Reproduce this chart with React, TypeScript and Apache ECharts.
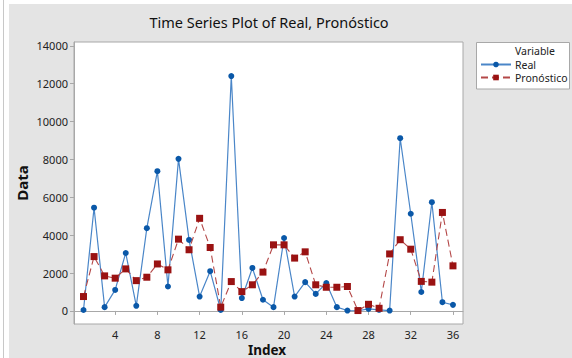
import React, { useEffect, useRef } from "react";
import * as echarts from "echarts";

const indexValues = Array.from({ length: 36 }, (_, i) => i + 1);
const realValues = [
  50, 5450, 200, 1110, 3060, 270, 4370, 7380, 1290, 8030, 3750, 760,
  2100, 50, 12400, 680, 2270, 590, 200, 3850, 760, 1520, 900, 1470,
  200, 20, 10, 110, 60, 20, 9120, 5130, 1000, 5740, 460, 320,
];
const forecastValues = [
  760, 2870, 1850, 1730, 2220, 1600, 1780, 2480, 2170, 3790, 3230, 4890,
  3350, 200, 1550, 1020, 1380, 2050, 3490, 3490, 2790, 3120, 1380, 1250,
  1250, 1290, 20, 350, 140, 3010, 3760, 3260, 1560, 1520, 5200, 2380,
];
const xTicks = [4, 8, 12, 16, 20, 24, 28, 32, 36];
const yTicks = [0, 2000, 4000, 6000, 8000, 10000, 12000, 14000];
const seriesNames = ["Real", "Pronóstico"];

const FONT = "'Noto Sans', 'Open Sans', sans-serif";

export default function App() {
  const ref = useRef<HTMLDivElement>(null);
  useEffect(() => {
    if (!ref.current) return;
    const chart = echarts.init(ref.current, undefined, { renderer: "svg" });
    const real = indexValues.map((x, i) => [x, realValues[i]]);
    const fc = indexValues.map((x, i) => [x, forecastValues[i]]);
    chart.setOption({
      animation: false,
      backgroundColor: "#ffffff",
      textStyle: { fontFamily: FONT },
      graphic: [
        { type: "rect", z: -10, shape: { x: 9, y: 4, width: 563, height: 354 }, style: { fill: "#e4e4e4" } },
        { type: "line", shape: { x1: 3.5, y1: 0, x2: 3.5, y2: 358 }, style: { stroke: "#c8c8c8", lineWidth: 1 } },
        {
          type: "text", x: 269, y: 21.5,
          style: { text: "Time Series Plot of Real, Pronóstico", fontSize: 14.5, fontFamily: FONT, fill: "#111", align: "center", verticalAlign: "middle" },
        },
        {
          type: "text", x: 22, y: 183, rotation: Math.PI / 2,
          style: { text: "Data", fontSize: 15, fontWeight: "bold", fontFamily: FONT, fill: "#111", align: "center", verticalAlign: "middle" },
        },
        {
          type: "text", x: 267, y: 349.5,
          style: { text: "Index", fontSize: 13.5, lineHeight: 13, fontWeight: "bold", fontFamily: FONT, fill: "#111", align: "center", verticalAlign: "middle" },
        },
        { type: "rect", shape: { x: 476.5, y: 42.5, width: 93, height: 46.5 }, style: { fill: "#ffffff", stroke: "#a8a8a8", lineWidth: 1 } },
        {
          type: "text", x: 515, y: 50.5,
          style: { text: "Variable", fontSize: 10.5, fontFamily: FONT, fill: "#222", align: "left", verticalAlign: "middle" },
        },
      ],
      legend: {
        left: 480, top: 58.5, orient: "vertical", itemGap: 1, itemWidth: 30, itemHeight: 7,
        data: seriesNames,
        textStyle: { fontSize: 10.5, lineHeight: 12, fontFamily: FONT, color: "#222", padding: [0, 0, 0, -1] },
        padding: 0,
      },
      grid: { left: 74, top: 42, right: 109, bottom: 34, show: true, borderColor: "#a8a8a8", borderWidth: 1, backgroundColor: "#ffffff" },
      xAxis: {
        type: "value", min: 0.1, max: 36.95,
        splitLine: { show: false },
        axisLine: { show: true, lineStyle: { color: "#a8a8a8" } },
        axisTick: { show: true, length: 4, customValues: xTicks, lineStyle: { color: "#a8a8a8" } },
        axisLabel: { customValues: xTicks, fontSize: 11, lineHeight: 12, color: "#222", fontFamily: FONT, margin: 4 },
      },
      yAxis: {
        type: "value", min: -690, max: 14200,
        splitLine: { show: false },
        axisLine: { show: true, lineStyle: { color: "#a8a8a8" } },
        axisTick: { show: true, length: 4, customValues: yTicks, lineStyle: { color: "#a8a8a8" } },
        axisLabel: { customValues: yTicks, formatter: (v: number) => String(v), fontSize: 11, color: "#222", fontFamily: FONT, margin: 6 },
      },
      series: [
        {
          name: seriesNames[0], type: "line", data: real,
          symbol: "circle", symbolSize: 6,
          itemStyle: { color: "#0a58a8" },
          lineStyle: { color: "#4a86c8", width: 1.2 },
          z: 2,
        },
        {
          name: seriesNames[1], type: "line", data: fc,
          symbol: "rect", symbolSize: 7,
          itemStyle: { color: "#9a1212" },
          lineStyle: { color: "#b44848", width: 1.1, type: [7, 4] },
          z: 3,
        },
      ],
    });
    return () => chart.dispose();
  }, []);
  return <div ref={ref} style={{ width: 572, height: 358, position: "absolute", left: 0, top: 0 }} />;
}
